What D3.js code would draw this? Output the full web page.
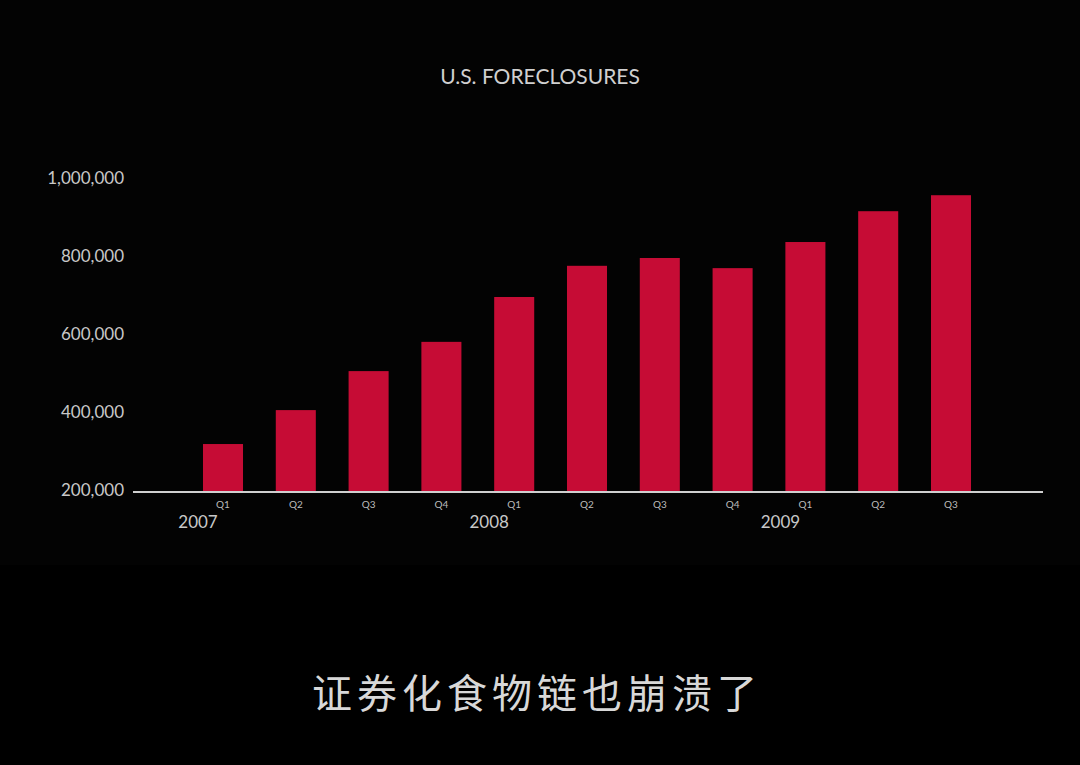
<!DOCTYPE html>
<html><head><meta charset="utf-8">
<script src="https://cdn.jsdelivr.net/npm/d3@7"></script>
<style>body{margin:0;background:#000;}</style>
</head><body>
<svg id="chart"></svg>
<script>
const quarters = ["Q1","Q2","Q3","Q4","Q1","Q2","Q3","Q4","Q1","Q2","Q3"];
const years = ["2007","2008","2009"];
const yearStart = [0, 4, 8];
const values = [323000, 410000, 510000, 585000, 700000, 780000, 800000, 774000, 841000, 920000, 961000];
const yTicks = [200000, 400000, 600000, 800000, 1000000];

const width = 1080, height = 765;
const svg = d3.select("#chart").attr("width", width).attr("height", height);
svg.append("rect").attr("width", width).attr("height", height).attr("fill", "#000");
svg.append("rect").attr("width", width).attr("height", 565).attr("fill", "#030303");

const x = d3.scaleBand()
    .domain(d3.range(values.length))
    .range([186.6, 987.4])
    .paddingInner(0.45)
    .paddingOuter(0.225);
const y = d3.scaleLinear().domain([200000, 1000000]).range([492, 180]);

svg.append("text")
    .attr("x", 540).attr("y", 84)
    .attr("text-anchor", "middle")
    .attr("fill", "#d0d0d0")
    .style("font", "21px Lato")
    .text("U.S. FORECLOSURES");

svg.selectAll(".ytick").data(yTicks).join("text")
    .attr("class", "ytick")
    .attr("x", 124).attr("y", d => y(d) + 4)
    .attr("text-anchor", "end")
    .attr("fill", "#c8c8c8")
    .style("font", "17px Lato")
    .text(d3.format(","));

svg.selectAll(".bar").data(values).join("rect")
    .attr("class", "bar")
    .attr("x", (d, i) => x(i))
    .attr("width", x.bandwidth())
    .attr("y", d => y(d))
    .attr("height", d => y(200000) - y(d))
    .attr("fill", "#c60c35");

svg.append("line")
    .attr("x1", 133).attr("x2", 1043)
    .attr("y1", y(200000)).attr("y2", y(200000))
    .attr("stroke", "#cfcfcf").attr("stroke-width", 2);

svg.selectAll(".q").data(quarters).join("text")
    .attr("class", "q")
    .attr("x", (d, i) => x(i) + x.bandwidth() / 2)
    .attr("y", 508)
    .attr("text-anchor", "middle")
    .attr("fill", "#bbb")
    .style("font", "10px Lato")
    .text(d => d);

svg.selectAll(".yr").data(years).join("text")
    .attr("class", "yr")
    .attr("x", (d, i) => x(yearStart[i]) + x.bandwidth() / 2 - 25)
    .attr("y", 528)
    .attr("text-anchor", "middle")
    .attr("fill", "#c8c8c8")
    .style("font", "17px Lato")
    .text(d => d);

svg.append("text")
    .attr("x", 537).attr("y", 708)
    .attr("text-anchor", "middle")
    .attr("fill", "#d8d8d8")
    .style("font", "40px 'Noto Sans CJK SC'")
    .style("letter-spacing", "5px")
    .text("证券化食物链也崩溃了");
</script>
</body></html>
